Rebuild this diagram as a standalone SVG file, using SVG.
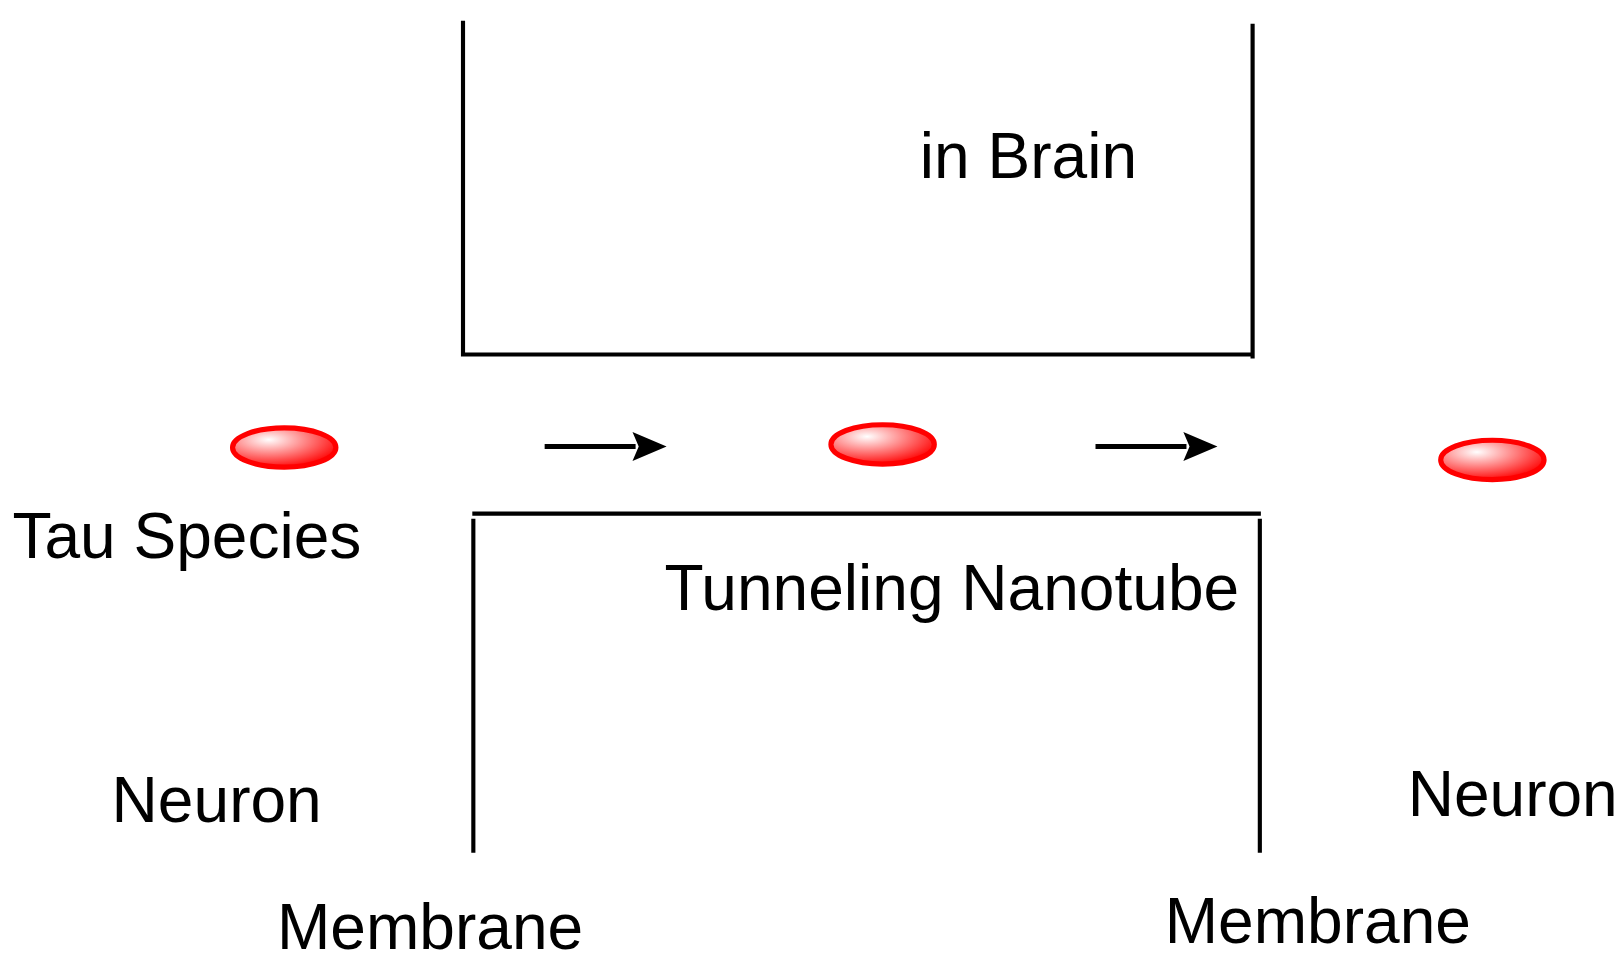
<svg xmlns="http://www.w3.org/2000/svg" width="1617" height="971" viewBox="0 0 1617 971">
<style>
.l{stroke:#000;stroke-width:4;fill:none}
.t{font-family:"Liberation Sans",Arial,sans-serif;font-size:62px;fill:#000}
.e{fill:url(#g);stroke:#f00;stroke-width:5}
</style>
<defs>
<radialGradient id="g" cx="0.35" cy="0.3" r="0.75"><stop offset="0" stop-color="#fff"/><stop offset="1" stop-color="#f00"/></radialGradient>
</defs>
<rect width="1617" height="971" fill="#fff"/>
<g transform="scale(1.0335)">
<g id="shapes">
<path class="l" d="M448,20 V343 H1212 M1212,23 V347"/>
<path class="l" d="M457,497 H1220 M458,502 V825 M1219,502 V825"/>
</g>
<g id="tau1"><ellipse class="e" cx="275" cy="433" rx="50" ry="19"/></g>
<g id="tau2"><ellipse class="e" cx="854" cy="430" rx="50" ry="19"/></g>
<g id="tau3"><ellipse class="e" cx="1444" cy="445" rx="50" ry="19"/></g>
<g id="connectors">
<path d="M527,432 H615" stroke="#000" stroke-width="5"/>
<path d="M612,418 L645,432 L612,446 L618,432 Z"/>
<path d="M1060,432 H1148" stroke="#000" stroke-width="5"/>
<path d="M1145,418 L1178,432 L1145,446 L1151,432 Z"/>
</g>
<g id="labels">
<text class="t" x="890" y="172">in Brain</text>
<text class="t" x="12" y="540">Tau Species</text>
<text class="t" x="643" y="590">Tunneling Nanotube</text>
<text class="t" x="108" y="795">Neuron</text>
<text class="t" x="1362" y="790">Neuron</text>
<text class="t" x="268" y="918">Membrane</text>
<text class="t" x="1127" y="912">Membrane</text>
</g>
</g>
</svg>
